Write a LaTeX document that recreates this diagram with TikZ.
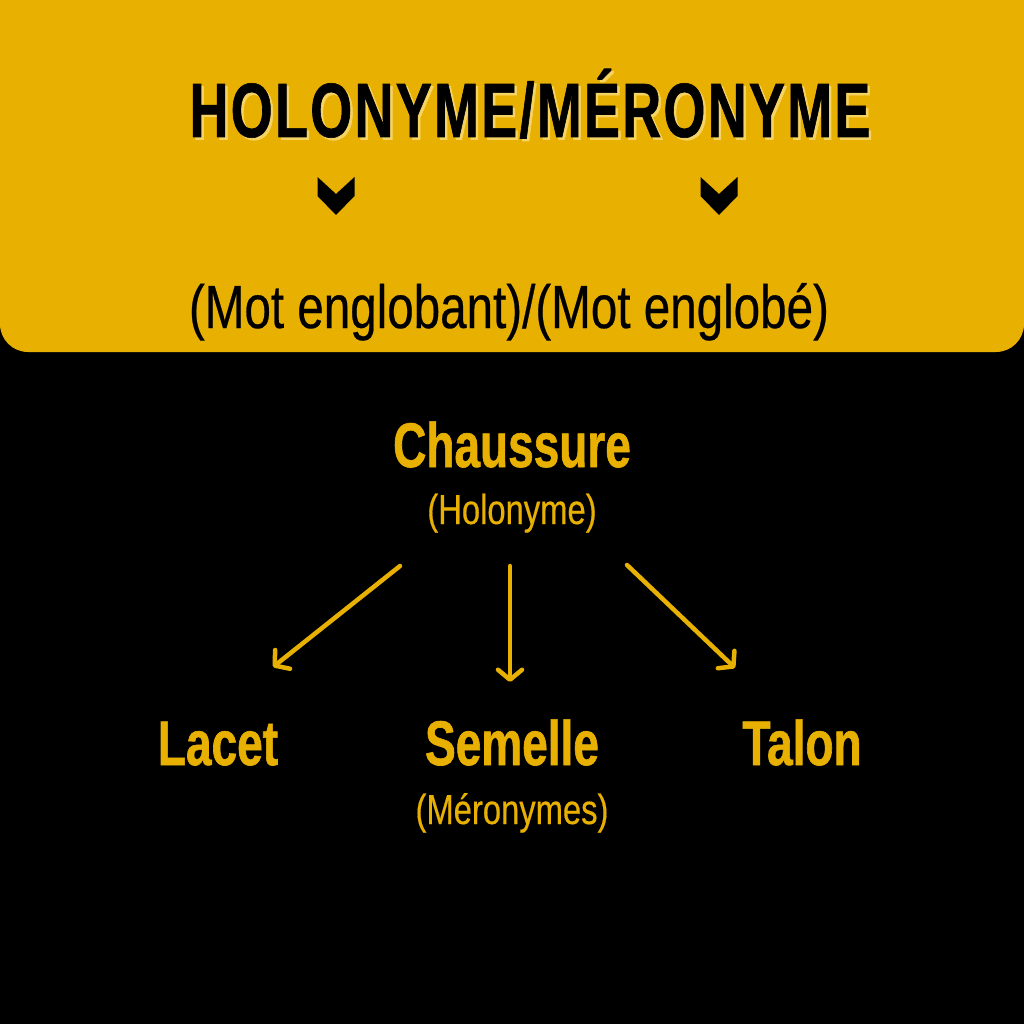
\documentclass[tikz,border=0pt]{standalone}
\usepackage{fontspec}
\usetikzlibrary{arrows.meta}
\newfontfamily\titlefont{Liberation Sans}[FakeStretch=0.70,FakeBold=0.8,LetterSpace=3]
\newfontfamily\headfont{Liberation Sans}[FakeStretch=0.73,FakeBold=1.0]
\newfontfamily\bodyfont{Liberation Sans}[FakeStretch=0.78,FakeBold=0.4]
\definecolor{gold}{RGB}{232,176,0}
\definecolor{palegold}{RGB}{246,212,100}

\begin{document}
\begin{tikzpicture}[x=1pt,y=-1pt]
\useasboundingbox (0,0) rectangle (1024,1024);
\fill[black] (0,0) rectangle (1024,1024);
\fill[gold,rounded corners=28pt] (0,-40) rectangle (1024,352);
% chevrons under the title
\foreach \cx in {336,719}
  \fill[black] (\cx-18.5,177) -- (\cx,194) -- (\cx+18.5,177) -- (\cx+18.5,196) -- (\cx,215) -- (\cx-18.5,196) -- cycle;
\tikzstyle{every node}=[inner sep=0pt,anchor=base];
\tikzstyle{heavy}=[font=\titlefont\bfseries\fontsize{77}{80}\selectfont];
\tikzstyle{heavymid}=[font=\headfont\bfseries\fontsize{63}{66}\selectfont,text=gold];
\tikzstyle{light}=[font=\bodyfont\fontsize{61}{64}\selectfont];
\tikzstyle{lightsmall}=[font=\bodyfont\fontsize{42}{44}\selectfont,text=gold];
\node[heavy,text=palegold] (titleshade) at (532.5,139.5) {HOLONYME/MÉRONYME};
\node[heavy] (title) at (530,137) {HOLONYME/MÉRONYME};
\node[light] (sub) at (509,328) {(Mot englobant)/(Mot englobé)};
\node[heavymid] (whole) at (512,467) {Chaussure};
\node[lightsmall] (wholetag) at (512,524) {(Holonyme)};
\node[heavymid] (lacet) at (218,765) {Lacet};
\node[heavymid] (semelle) at (512,765) {Semelle};
\node[heavymid] (talon) at (802,765) {Talon};
\node[lightsmall] (parttag) at (512,824) {(Méronymes)};
\tikzstyle{arr}=[draw=gold,line width=4.5pt,line cap=round,-{Straight Barb[length=10pt,width=24pt,round]}];
\coordinate (l0) at (400,566); \coordinate (l1) at (273,667);
\coordinate (m0) at (510,566); \coordinate (m1) at (510,682);
\coordinate (r0) at (627,565); \coordinate (r1) at (735,668);
\draw[arr] (l0) -- (l1);
\draw[arr] (m0) -- (m1);
\draw[arr] (r0) -- (r1);
\end{tikzpicture}
\end{document}
